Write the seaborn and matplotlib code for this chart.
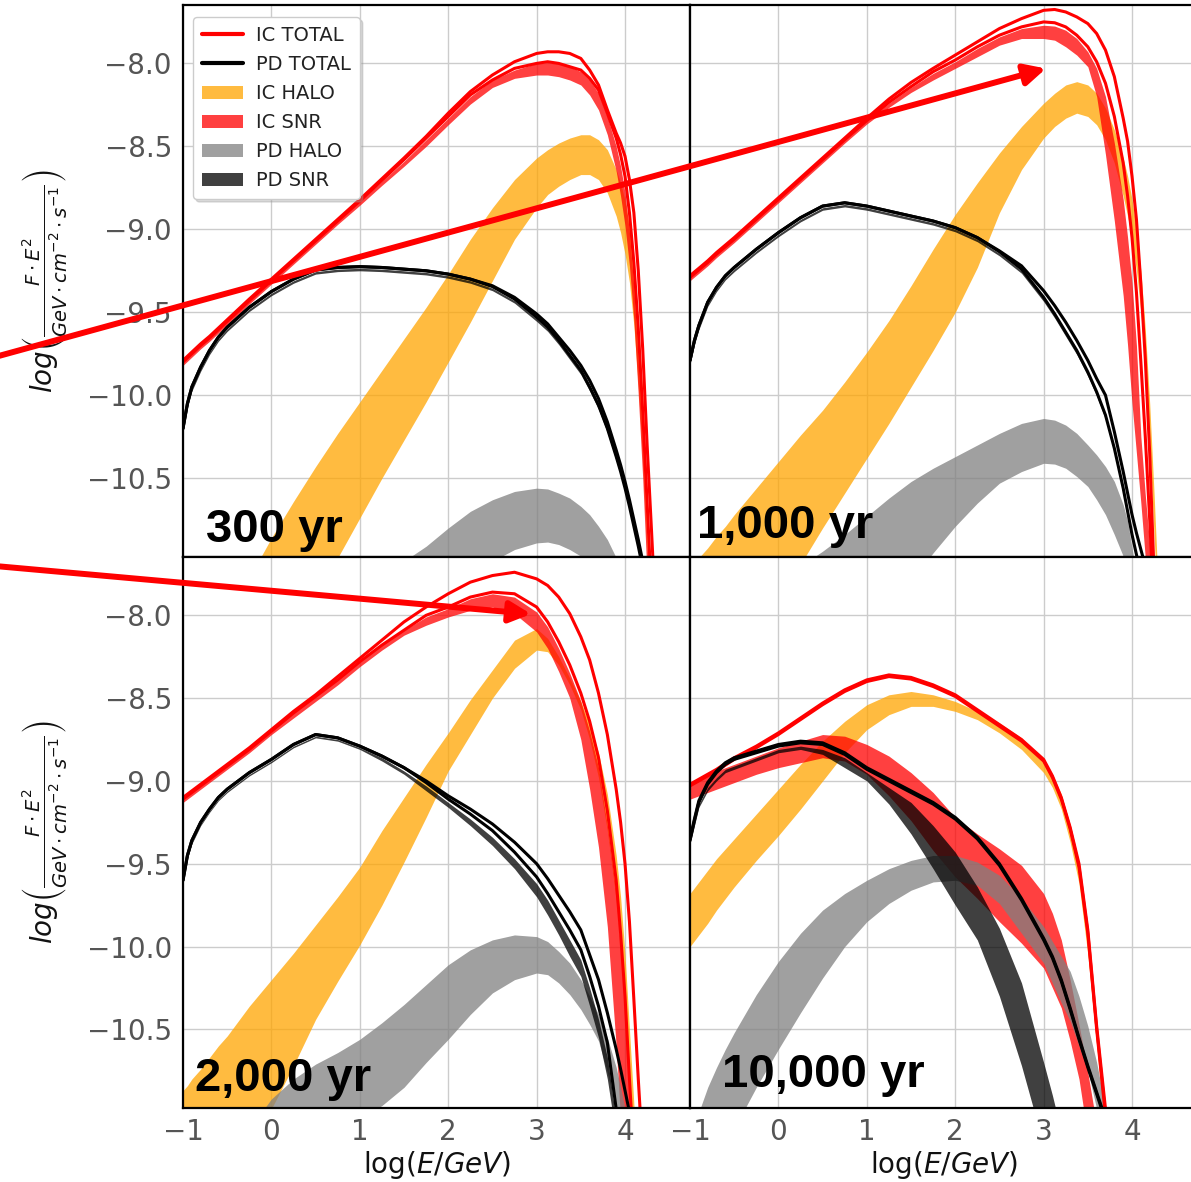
import matplotlib
matplotlib.use("Agg")
import matplotlib.pyplot as plt
from matplotlib.patches import FancyArrowPatch, Patch
from matplotlib.lines import Line2D
import seaborn as sns

# ---------------------------------------------------------------------------
# Energy grids, log10(E/GeV)
# ---------------------------------------------------------------------------
X_EARLY = [-1, -0.95, -0.9, -0.8, -0.7, -0.6, -0.5,
           -0.25, 0, 0.25, 0.5, 0.75, 1, 1.25, 1.5, 1.75, 2, 2.25, 2.5, 2.75,
           3, 3.125, 3.25, 3.375, 3.5, 3.6, 3.7, 3.8, 3.9, 3.95, 4.0, 4.05, 4.1, 4.15, 4.2, 4.25, 4.3, 4.4]
X_LATE = [-1, -0.95, -0.9, -0.8, -0.7, -0.6, -0.5,
          -0.25, 0, 0.25, 0.5, 0.75, 1, 1.25, 1.5, 1.75, 2, 2.25, 2.5, 2.75,
          3, 3.1, 3.2, 3.3, 3.4, 3.5, 3.6, 3.7, 3.8]

# ---------------------------------------------------------------------------
# 300 yr
# ---------------------------------------------------------------------------
IC_TOT_HI_300 = [-9.79, -9.765, -9.74, -9.69, -9.645, -9.595, -9.545,
                 -9.42, -9.30, -9.18, -9.06, -8.94, -8.82, -8.695, -8.57, -8.44, -8.30, -8.17, -8.07, -7.99,
                 -7.94, -7.93, -7.93, -7.94, -7.97, -8.04, -8.13, -8.28, -8.42, -8.48, -8.56, -8.70, -8.90, -9.25, -9.72, -10.3, -10.82, -11.9]
IC_TOT_LO_300 = [-9.80, -9.775, -9.75, -9.70, -9.655, -9.605, -9.555,
                 -9.43, -9.31, -9.19, -9.07, -8.95, -8.83, -8.705, -8.58, -8.45, -8.32, -8.19, -8.10, -8.03,
                 -8.00, -7.99, -8.00, -8.02, -8.04, -8.09, -8.16, -8.30, -8.45, -8.55, -8.68, -8.90, -9.20, -9.60, -10.10, -10.65, -11.2, -12.3]
IC_SNR_HI_300 = [-9.80, -9.775, -9.75, -9.70, -9.655, -9.605, -9.555,
                 -9.43, -9.31, -9.19, -9.07, -8.95, -8.83, -8.71, -8.59, -8.46, -8.33, -8.20, -8.10, -8.04,
                 -8.00, -7.995, -8.00, -8.02, -8.05, -8.10, -8.18, -8.32, -8.50, -8.62, -8.78, -9.02, -9.35, -9.80, -10.3, -10.9, -11.5, -12.5]
IC_SNR_LO_300 = [-9.82, -9.795, -9.77, -9.72, -9.675, -9.625, -9.575,
                 -9.45, -9.33, -9.21, -9.09, -8.97, -8.855, -8.735, -8.62, -8.50, -8.37, -8.245, -8.145, -8.09,
                 -8.07, -8.07, -8.08, -8.10, -8.13, -8.19, -8.28, -8.43, -8.65, -8.80, -8.98, -9.22, -9.55, -10.0, -10.5, -11.1, -11.7, -12.8]
IC_HALO_HI_300 = [-11.9, -11.85, -11.8, -11.68, -11.55, -11.45, -11.35,
                  -11.1, -10.86, -10.64, -10.43, -10.23, -10.04, -9.85, -9.66, -9.47, -9.27, -9.06, -8.87, -8.70,
                  -8.57, -8.52, -8.48, -8.45, -8.43, -8.43, -8.46, -8.52, -8.64, -8.72, -8.83, -8.98, -9.2, -9.55, -10.0, -10.6, -11.2, -12.3]
IC_HALO_LO_300 = [-12.6, -12.55, -12.5, -12.4, -12.3, -12.2, -12.1,
                  -11.9, -11.7, -11.45, -11.2, -10.98, -10.74, -10.5, -10.27, -10.04, -9.80, -9.56, -9.31, -9.06,
                  -8.87, -8.79, -8.74, -8.70, -8.67, -8.67, -8.70, -8.78, -8.92, -9.02, -9.15, -9.32, -9.58, -9.95, -10.4, -10.95, -11.5, -12.5]
PD_HALO_HI_300 = [-12.4, -12.37, -12.35, -12.3, -12.2, -12.12, -12.05,
                  -11.85, -11.65, -11.5, -11.38, -11.27, -11.17, -11.08, -11.0, -10.91, -10.8, -10.7, -10.63, -10.58,
                  -10.56, -10.565, -10.59, -10.62, -10.67, -10.72, -10.79, -10.87, -10.98, -11.05, -11.12, -11.2, -11.3, -11.4, -11.5, -11.6, -11.7, -12.0]
PD_HALO_LO_300 = [-13.2, -13.15, -13.1, -13.0, -12.9, -12.8, -12.7,
                  -12.45, -12.25, -12.05, -11.9, -11.75, -11.65, -11.55, -11.45, -11.32, -11.2, -11.1, -11.0, -10.93,
                  -10.89, -10.885, -10.9, -10.93, -10.97, -11.02, -11.08, -11.15, -11.25, -11.3, -11.35, -11.42, -11.5, -11.6, -11.7, -11.8, -11.9, -12.2]
PD_TOT_HI_300 = [-10.2, -10.05, -9.95, -9.83, -9.73, -9.65, -9.59,
                 -9.47, -9.375, -9.3, -9.245, -9.23, -9.225, -9.23, -9.24, -9.25, -9.27, -9.3, -9.34, -9.41,
                 -9.51, -9.57, -9.65, -9.73, -9.82, -9.91, -10.02, -10.16, -10.33, -10.42, -10.52, -10.63, -10.75, -10.87, -11.0, -11.12, -11.27, -11.6]
PD_TOT_LO_300 = [-10.2, -10.05, -9.95, -9.83, -9.73, -9.65, -9.59,
                 -9.47, -9.375, -9.3, -9.245, -9.23, -9.225, -9.23, -9.24, -9.25, -9.27, -9.3, -9.345, -9.42,
                 -9.53, -9.59, -9.67, -9.76, -9.85, -9.95, -10.06, -10.2, -10.37, -10.46, -10.56, -10.67, -10.79, -10.91, -11.04, -11.17, -11.32, -11.65]
PD_SNR_HI_300 = [-10.21, -10.06, -9.96, -9.84, -9.74, -9.66, -9.60,
                 -9.48, -9.385, -9.31, -9.255, -9.24, -9.235, -9.24, -9.25, -9.26, -9.28, -9.31, -9.355, -9.43,
                 -9.54, -9.60, -9.68, -9.77, -9.86, -9.96, -10.07, -10.21, -10.38, -10.47, -10.57, -10.68, -10.8, -10.92, -11.05, -11.18, -11.33, -11.66]
PD_SNR_LO_300 = [-10.225, -10.075, -9.975, -9.855, -9.755, -9.675, -9.615,
                 -9.495, -9.4, -9.325, -9.27, -9.255, -9.25, -9.255, -9.265, -9.275, -9.295, -9.325, -9.37, -9.445,
                 -9.555, -9.615, -9.695, -9.785, -9.875, -9.975, -10.085, -10.225, -10.395, -10.485, -10.585, -10.695, -10.815, -10.935, -11.065, -11.195, -11.345, -11.675]

# ---------------------------------------------------------------------------
# 1,000 yr
# ---------------------------------------------------------------------------
IC_TOT_HI_1000 = [-9.28, -9.257, -9.235, -9.19, -9.14, -9.095, -9.05,
                  -8.93, -8.81, -8.69, -8.57, -8.45, -8.33, -8.215, -8.115, -8.03, -7.95, -7.87, -7.79, -7.73,
                  -7.68, -7.675, -7.69, -7.72, -7.76, -7.82, -7.92, -8.08, -8.33, -8.47, -8.68, -8.94, -9.33, -9.78, -10.35, -11.08, -11.7, -12.6]
IC_TOT_LO_1000 = [-9.29, -9.267, -9.245, -9.2, -9.15, -9.105, -9.06,
                  -8.94, -8.82, -8.70, -8.58, -8.46, -8.345, -8.235, -8.14, -8.05, -7.98, -7.90, -7.83, -7.78,
                  -7.75, -7.755, -7.78, -7.83, -7.9, -7.99, -8.12, -8.32, -8.6, -8.8, -9.05, -9.38, -9.8, -10.25, -10.75, -11.3, -11.8, -12.8]
IC_SNR_HI_1000 = [-9.29, -9.267, -9.245, -9.2, -9.15, -9.105, -9.06,
                  -8.94, -8.82, -8.70, -8.58, -8.46, -8.345, -8.24, -8.145, -8.06, -7.99, -7.91, -7.84, -7.79,
                  -7.77, -7.775, -7.80, -7.85, -7.93, -8.03, -8.2, -8.48, -8.82, -9.05, -9.32, -9.7, -10.25, -10.6, -10.9, -11.25, -11.7, -12.6]
IC_SNR_LO_1000 = [-9.31, -9.287, -9.265, -9.22, -9.17, -9.125, -9.08,
                  -8.96, -8.84, -8.72, -8.60, -8.48, -8.365, -8.265, -8.175, -8.10, -8.03, -7.96, -7.89, -7.85,
                  -7.85, -7.86, -7.90, -7.95, -8.02, -8.2, -8.55, -8.95, -9.4, -9.7, -10.05, -10.35, -10.65, -10.98, -11.3, -11.6, -11.9, -12.7]
IC_HALO_HI_1000 = [-11.04, -11.01, -10.98, -10.92, -10.85, -10.79, -10.72,
                   -10.56, -10.4, -10.24, -10.09, -9.92, -9.74, -9.55, -9.34, -9.12, -8.91, -8.72, -8.54, -8.38,
                   -8.24, -8.18, -8.13, -8.11, -8.13, -8.18, -8.27, -8.4, -8.57, -8.68, -8.82, -9.0, -9.25, -9.6, -10.05, -10.6, -11.2, -12.3]
IC_HALO_LO_1000 = [-12.1, -12.06, -12.02, -11.96, -11.88, -11.8, -11.7,
                   -11.45, -11.22, -11.02, -10.8, -10.59, -10.38, -10.17, -9.95, -9.73, -9.5, -9.23, -8.9, -8.64,
                   -8.45, -8.38, -8.33, -8.3, -8.32, -8.37, -8.46, -8.6, -8.8, -8.92, -9.06, -9.25, -9.5, -9.85, -10.3, -10.85, -11.4, -12.5]
PD_HALO_HI_1000 = [-11.7, -11.67, -11.64, -11.58, -11.52, -11.46, -11.4,
                   -11.25, -11.13, -11.03, -10.94, -10.84, -10.73, -10.62, -10.52, -10.44, -10.37, -10.3, -10.23, -10.17,
                   -10.14, -10.15, -10.18, -10.23, -10.3, -10.36, -10.43, -10.52, -10.66, -10.76, -10.92, -11.08, -11.22, -11.38, -11.55, -11.75, -11.95, -12.4]
PD_HALO_LO_1000 = [-12.5, -12.47, -12.45, -12.4, -12.3, -12.25, -12.2,
                   -12.05, -11.9, -11.75, -11.6, -11.5, -11.4, -11.28, -11.12, -10.95, -10.79, -10.65, -10.53, -10.46,
                   -10.41, -10.415, -10.44, -10.49, -10.55, -10.63, -10.72, -10.84, -10.97, -11.05, -11.15, -11.27, -11.4, -11.55, -11.7, -11.85, -12.0, -12.4]
PD_TOT_HI_1000 = [-9.79, -9.67, -9.58, -9.44, -9.35, -9.28, -9.23,
                  -9.12, -9.02, -8.93, -8.86, -8.84, -8.86, -8.89, -8.92, -8.95, -8.99, -9.05, -9.13, -9.22,
                  -9.37, -9.46, -9.56, -9.67, -9.79, -9.9, -10.0, -10.22, -10.46, -10.59, -10.72, -10.83, -10.93, -11.03, -11.15, -11.3, -11.45, -11.8]
PD_TOT_LO_1000 = [-9.79, -9.67, -9.58, -9.44, -9.35, -9.28, -9.23,
                  -9.12, -9.02, -8.93, -8.86, -8.84, -8.86, -8.89, -8.92, -8.95, -8.99, -9.05, -9.135, -9.24,
                  -9.41, -9.51, -9.62, -9.73, -9.86, -9.98, -10.12, -10.32, -10.56, -10.7, -10.84, -10.96, -11.08, -11.2, -11.33, -11.47, -11.6, -11.95]
PD_SNR_HI_1000 = [-9.80, -9.68, -9.59, -9.45, -9.36, -9.29, -9.24,
                  -9.13, -9.03, -8.94, -8.87, -8.85, -8.87, -8.90, -8.93, -8.96, -9.00, -9.06, -9.145, -9.25,
                  -9.42, -9.52, -9.63, -9.74, -9.87, -9.99, -10.13, -10.33, -10.57, -10.71, -10.85, -10.97, -11.09, -11.21, -11.34, -11.48, -11.61, -11.96]
PD_SNR_LO_1000 = [-9.815, -9.695, -9.605, -9.465, -9.375, -9.305, -9.255,
                  -9.145, -9.045, -8.955, -8.885, -8.865, -8.885, -8.915, -8.945, -8.975, -9.015, -9.075, -9.16, -9.265,
                  -9.435, -9.535, -9.645, -9.755, -9.885, -10.005, -10.145, -10.345, -10.585, -10.725, -10.865, -10.985, -11.105, -11.225, -11.355, -11.495, -11.625, -11.975]

# ---------------------------------------------------------------------------
# 2,000 yr
# ---------------------------------------------------------------------------
IC_TOT_HI_2000 = [-9.10, -9.08, -9.06, -9.02, -8.98, -8.94, -8.9,
                  -8.8, -8.69, -8.58, -8.48, -8.37, -8.26, -8.15, -8.04, -7.95, -7.87, -7.80, -7.76, -7.74,
                  -7.78, -7.82, -7.89, -7.99, -8.13, -8.27, -8.47, -8.72, -9.05, -9.25, -9.5, -9.85, -10.32, -10.8, -11.25, -11.7, -12.2, -13.0]
IC_TOT_LO_2000 = [-9.11, -9.09, -9.07, -9.03, -8.99, -8.95, -8.91,
                  -8.81, -8.70, -8.59, -8.49, -8.39, -8.28, -8.18, -8.09, -8.0, -7.95, -7.89, -7.86, -7.87,
                  -7.95, -8.04, -8.16, -8.3, -8.47, -8.64, -8.86, -9.18, -9.6, -9.92, -10.3, -10.8, -11.25, -11.7, -12.1, -12.5, -12.9, -13.6]
IC_SNR_HI_2000 = [-9.11, -9.09, -9.07, -9.03, -8.99, -8.95, -8.91,
                  -8.81, -8.70, -8.59, -8.49, -8.39, -8.28, -8.18, -8.09, -8.01, -7.96, -7.90, -7.87, -7.89,
                  -7.98, -8.07, -8.2, -8.35, -8.52, -8.7, -8.92, -9.27, -9.68, -10.02, -10.4, -10.88, -11.3, -11.7, -12.1, -12.5, -12.9, -13.6]
IC_SNR_LO_2000 = [-9.13, -9.11, -9.09, -9.05, -9.01, -8.97, -8.93,
                  -8.83, -8.72, -8.62, -8.52, -8.42, -8.31, -8.21, -8.12, -8.06, -8.01, -7.97, -7.95, -7.99,
                  -8.1, -8.2, -8.34, -8.5, -8.75, -9.05, -9.4, -9.88, -10.6, -11.05, -11.4, -11.8, -12.2, -12.6, -13.0, -13.4, -13.8, -14.5]
IC_HALO_HI_2000 = [-10.87, -10.84, -10.8, -10.74, -10.67, -10.6, -10.54,
                   -10.36, -10.2, -10.04, -9.87, -9.7, -9.52, -9.3, -9.1, -8.9, -8.71, -8.51, -8.33, -8.15,
                   -8.08, -8.14, -8.25, -8.38, -8.52, -8.66, -8.83, -9.08, -9.45, -9.7, -10.05, -10.5, -10.95, -11.4, -11.8, -12.2, -12.6, -13.3]
IC_HALO_LO_2000 = [-11.9, -11.85, -11.8, -11.7, -11.6, -11.52, -11.45,
                   -11.22, -10.98, -10.72, -10.44, -10.21, -9.99, -9.75, -9.49, -9.22, -8.94, -8.72, -8.5, -8.32,
                   -8.21, -8.22, -8.3, -8.42, -8.57, -8.75, -8.98, -9.3, -9.72, -10.0, -10.35, -10.8, -11.25, -11.7, -12.1, -12.5, -12.9, -13.6]
PD_HALO_HI_2000 = [-11.6, -11.57, -11.54, -11.48, -11.42, -11.36, -11.3,
                   -11.1, -10.92, -10.8, -10.71, -10.64, -10.56, -10.46, -10.35, -10.23, -10.11, -10.02, -9.96, -9.93,
                   -9.94, -9.97, -10.03, -10.1, -10.2, -10.3, -10.41, -10.55, -10.73, -10.85, -10.98, -11.1, -11.25, -11.4, -11.55, -11.7, -11.85, -12.2]
PD_HALO_LO_2000 = [-12.3, -12.26, -12.22, -12.15, -12.05, -11.98, -11.9,
                   -11.7, -11.5, -11.35, -11.22, -11.12, -11.04, -10.96, -10.85, -10.7, -10.56, -10.41, -10.28, -10.2,
                   -10.16, -10.17, -10.22, -10.29, -10.38, -10.47, -10.57, -10.76, -10.98, -11.08, -11.18, -11.3, -11.45, -11.6, -11.75, -11.9, -12.05, -12.4]
PD_TOT_HI_2000 = [-9.6, -9.45, -9.36, -9.25, -9.17, -9.1, -9.05,
                  -8.95, -8.87, -8.78, -8.72, -8.74, -8.79, -8.85, -8.92, -9.0, -9.09, -9.17, -9.26, -9.37,
                  -9.5, -9.59, -9.69, -9.79, -9.9, -10.05, -10.2, -10.4, -10.62, -10.74, -10.87, -11.0, -11.13, -11.27, -11.4, -11.55, -11.7, -12.0]
PD_TOT_LO_2000 = [-9.6, -9.45, -9.36, -9.25, -9.17, -9.1, -9.05,
                  -8.95, -8.87, -8.78, -8.72, -8.74, -8.79, -8.85, -8.92, -9.01, -9.11, -9.2, -9.3, -9.43,
                  -9.58, -9.68, -9.79, -9.9, -10.02, -10.18, -10.36, -10.58, -10.98, -11.15, -11.3, -11.45, -11.6, -11.75, -11.9, -12.05, -12.2, -12.5]
PD_SNR_HI_2000 = [-9.61, -9.46, -9.37, -9.26, -9.18, -9.11, -9.06,
                  -8.96, -8.88, -8.79, -8.73, -8.75, -8.80, -8.86, -8.94, -9.03, -9.13, -9.23, -9.34, -9.47,
                  -9.62, -9.72, -9.84, -9.96, -10.08, -10.25, -10.44, -10.67, -11.05, -11.22, -11.37, -11.52, -11.67, -11.82, -11.97, -12.12, -12.27, -12.57]
PD_SNR_LO_2000 = [-9.62, -9.47, -9.38, -9.27, -9.19, -9.12, -9.07,
                  -8.97, -8.89, -8.8, -8.74, -8.76, -8.81, -8.88, -8.96, -9.06, -9.16, -9.27, -9.39, -9.53,
                  -9.7, -9.81, -9.93, -10.06, -10.18, -10.36, -10.55, -10.8, -11.15, -11.32, -11.47, -11.62, -11.77, -11.92, -12.07, -12.22, -12.37, -12.67]

# ---------------------------------------------------------------------------
# 10,000 yr
# ---------------------------------------------------------------------------
IC_TOT_HI_10000 = [-9.02, -9.005, -8.99, -8.96, -8.93, -8.895, -8.86,
                   -8.79, -8.71, -8.62, -8.53, -8.45, -8.39, -8.36, -8.375, -8.42, -8.48, -8.57, -8.66, -8.75,
                   -8.87, -8.97, -9.1, -9.28, -9.5, -9.9, -10.48, -10.98, -11.5]
IC_TOT_LO_10000 = [-9.03, -9.015, -9.0, -8.97, -8.94, -8.905, -8.87,
                   -8.80, -8.72, -8.63, -8.54, -8.46, -8.40, -8.37, -8.385, -8.43, -8.49, -8.58, -8.67, -8.76,
                   -8.88, -8.98, -9.11, -9.29, -9.52, -9.92, -10.5, -11.02, -11.55]
IC_SNR_HI_10000 = [-9.02, -9.005, -8.99, -8.965, -8.94, -8.92, -8.9,
                   -8.85, -8.80, -8.76, -8.72, -8.73, -8.78, -8.85, -8.95, -9.07, -9.22, -9.32, -9.41, -9.51,
                   -9.68, -9.8, -9.96, -10.2, -10.47, -10.76, -11.08, -11.5, -12.0]
IC_SNR_LO_10000 = [-9.11, -9.10, -9.09, -9.07, -9.05, -9.03, -9.01,
                   -8.96, -8.92, -8.89, -8.86, -8.88, -8.96, -9.09, -9.24, -9.42, -9.58, -9.71, -9.85, -9.98,
                   -10.13, -10.25, -10.37, -10.57, -10.8, -11.15, -11.45, -11.8, -12.2]
IC_HALO_HI_10000 = [-9.68, -9.645, -9.61, -9.54, -9.47, -9.41, -9.35,
                    -9.2, -9.05, -8.9, -8.76, -8.64, -8.54, -8.48, -8.46, -8.48, -8.52, -8.58, -8.65, -8.74,
                    -8.88, -8.96, -9.08, -9.27, -9.5, -9.9, -10.45, -11.0, -11.6]
IC_HALO_LO_10000 = [-10.0, -9.965, -9.93, -9.86, -9.78, -9.71, -9.64,
                    -9.48, -9.33, -9.17, -9.0, -8.83, -8.69, -8.6, -8.55, -8.55, -8.58, -8.63, -8.71, -8.81,
                    -8.95, -9.04, -9.17, -9.37, -9.62, -10.05, -10.6, -11.15, -11.7]
PD_HALO_HI_10000 = [-11.2, -11.1, -11.0, -10.85, -10.73, -10.62, -10.52,
                    -10.29, -10.09, -9.92, -9.78, -9.68, -9.6, -9.53, -9.48, -9.45, -9.45, -9.49, -9.57, -9.71,
                    -9.88, -9.97, -10.06, -10.15, -10.3, -10.48, -10.7, -10.98, -11.3]
PD_HALO_LO_10000 = [-12.0, -11.9, -11.8, -11.6, -11.4, -11.25, -11.1,
                    -10.85, -10.62, -10.4, -10.19, -10.0, -9.85, -9.74, -9.66, -9.61, -9.6, -9.63, -9.74, -9.92,
                    -10.1, -10.22, -10.34, -10.45, -10.6, -10.75, -10.98, -11.2, -11.5]
PD_TOT_HI_10000 = [-9.35, -9.23, -9.12, -9.01, -8.94, -8.89, -8.86,
                   -8.82, -8.78, -8.76, -8.77, -8.83, -8.92, -8.99, -9.06, -9.13, -9.22, -9.34, -9.5, -9.71,
                   -9.95, -10.06, -10.2, -10.37, -10.55, -10.72, -10.88, -11.04, -11.2]
PD_TOT_LO_10000 = [-9.36, -9.24, -9.13, -9.02, -8.95, -8.90, -8.87,
                   -8.83, -8.79, -8.77, -8.78, -8.84, -8.93, -9.0, -9.07, -9.14, -9.23, -9.35, -9.51, -9.72,
                   -9.96, -10.07, -10.21, -10.38, -10.56, -10.73, -10.89, -11.05, -11.21]
PD_SNR_HI_10000 = [-9.36, -9.25, -9.14, -9.04, -8.98, -8.93, -8.91,
                   -8.86, -8.81, -8.79, -8.81, -8.86, -8.95, -9.04, -9.13, -9.27, -9.43, -9.64, -9.89, -10.22,
                   -10.7, -10.9, -11.12, -11.35, -11.6, -11.85, -12.1, -12.4, -12.7]
PD_SNR_LO_10000 = [-9.38, -9.27, -9.16, -9.06, -9.0, -8.95, -8.93,
                   -8.88, -8.83, -8.81, -8.84, -8.92, -9.0, -9.14, -9.32, -9.53, -9.75, -9.96, -10.3, -10.72,
                   -11.2, -11.45, -11.7, -11.95, -12.2, -12.5, -12.8, -13.1, -13.4]

AGE_LABELS = ["300 yr", "1,000 yr", "2,000 yr", "10,000 yr"]
X_TICKS = [-1, 0, 1, 2, 3, 4]
Y_TICKS = [-10.5, -10.0, -9.5, -9.0, -8.5, -8.0]
LEGEND_LABELS = ["IC TOTAL", "PD TOTAL", "IC HALO", "IC SNR", "PD HALO", "PD SNR"]

panels = [
    dict(x=X_EARLY, ic_tot=(IC_TOT_LO_300, IC_TOT_HI_300), ic_snr=(IC_SNR_LO_300, IC_SNR_HI_300),
         ic_halo=(IC_HALO_LO_300, IC_HALO_HI_300), pd_halo=(PD_HALO_LO_300, PD_HALO_HI_300),
         pd_tot=(PD_TOT_LO_300, PD_TOT_HI_300), pd_snr=(PD_SNR_LO_300, PD_SNR_HI_300)),
    dict(x=X_EARLY, ic_tot=(IC_TOT_LO_1000, IC_TOT_HI_1000), ic_snr=(IC_SNR_LO_1000, IC_SNR_HI_1000),
         ic_halo=(IC_HALO_LO_1000, IC_HALO_HI_1000), pd_halo=(PD_HALO_LO_1000, PD_HALO_HI_1000),
         pd_tot=(PD_TOT_LO_1000, PD_TOT_HI_1000), pd_snr=(PD_SNR_LO_1000, PD_SNR_HI_1000)),
    dict(x=X_EARLY, ic_tot=(IC_TOT_LO_2000, IC_TOT_HI_2000), ic_snr=(IC_SNR_LO_2000, IC_SNR_HI_2000),
         ic_halo=(IC_HALO_LO_2000, IC_HALO_HI_2000), pd_halo=(PD_HALO_LO_2000, PD_HALO_HI_2000),
         pd_tot=(PD_TOT_LO_2000, PD_TOT_HI_2000), pd_snr=(PD_SNR_LO_2000, PD_SNR_HI_2000)),
    dict(x=X_LATE, ic_tot=(IC_TOT_LO_10000, IC_TOT_HI_10000), ic_snr=(IC_SNR_LO_10000, IC_SNR_HI_10000),
         ic_halo=(IC_HALO_LO_10000, IC_HALO_HI_10000), pd_halo=(PD_HALO_LO_10000, PD_HALO_HI_10000),
         pd_tot=(PD_TOT_LO_10000, PD_TOT_HI_10000), pd_snr=(PD_SNR_LO_10000, PD_SNR_HI_10000)),
]

sns.set_theme(style="whitegrid")
plt.rcParams.update({
    "font.family": ["DejaVu Sans"],
    "axes.edgecolor": "black",
    "axes.linewidth": 1.6,
    "grid.color": "0.8",
    "grid.linewidth": 1.0,
    "xtick.color": "#555555",
    "ytick.color": "#555555",
    "xtick.labelcolor": "#555555",
    "ytick.labelcolor": "#555555",
    "axes.labelcolor": "#111111",
    "text.color": "black",
    "mathtext.fontset": "dejavusans",
})

FIG_W, FIG_H = 1191, 1182
fig = plt.figure(figsize=(FIG_W / 100, FIG_H / 100), dpi=100)
fig.patch.set_facecolor("white")

AX_W = 507 / FIG_W
boxes = [
    [183 / FIG_W, 1 - 557 / FIG_H, AX_W, 552 / FIG_H],
    [690 / FIG_W, 1 - 557 / FIG_H, AX_W, 552 / FIG_H],
    [183 / FIG_W, 1 - 1108 / FIG_H, AX_W, 551 / FIG_H],
    [690 / FIG_W, 1 - 1108 / FIG_H, AX_W, 551 / FIG_H],
]
label_pos = [(0.045, 0.027), (0.013, 0.035), (0.024, 0.030), (0.063, 0.038)]

C_IC_HALO = "orange"
C_IC_SNR = "red"
C_PD_HALO = "gray"
C_PD_SNR = "black"
BAND_ALPHA = 0.75

axes = []
for i, (box, p) in enumerate(zip(boxes, panels)):
    ax = fig.add_axes(box)
    axes.append(ax)
    x = p["x"]
    ax.fill_between(x, *p["ic_halo"], color=C_IC_HALO, alpha=BAND_ALPHA, lw=0, zorder=2)
    ax.fill_between(x, *p["ic_snr"], color=C_IC_SNR, alpha=BAND_ALPHA, lw=0, zorder=3)
    ax.fill_between(x, *p["pd_halo"], color=C_PD_HALO, alpha=BAND_ALPHA, lw=0, zorder=4)
    ax.fill_between(x, *p["pd_snr"], color=C_PD_SNR, alpha=BAND_ALPHA, lw=0, zorder=5)
    for y in p["ic_tot"]:
        sns.lineplot(x=x, y=y, ax=ax, color="red", lw=2.2, estimator=None, sort=False, zorder=6)
    for y in p["pd_tot"]:
        sns.lineplot(x=x, y=y, ax=ax, color="black", lw=2.2, estimator=None, sort=False, zorder=7)

    ax.set_xlim(-1, 4.735)
    ax.set_ylim(-10.975, -7.648)
    ax.set_xticks(X_TICKS)
    ax.set_yticks(Y_TICKS)
    ax.grid(True, zorder=0)
    ax.set_axisbelow(True)
    ax.tick_params(axis="both", length=0, labelsize=20)
    ax.tick_params(axis="y", pad=8)
    ax.tick_params(axis="x", pad=7)
    for s in ax.spines.values():
        s.set_color("black")
        s.set_linewidth(1.6)
        s.set_zorder(10)
    ax.set_xlabel("")
    ax.set_ylabel("")
    if i in (0, 1):
        ax.tick_params(labelbottom=False)
    else:
        ax.set_xlabel(r"$\log(E/GeV)$", fontsize=20)
        ax.xaxis.set_label_coords(0.5, -0.075)
    if i in (1, 3):
        ax.tick_params(labelleft=False)
    else:
        ax.set_ylabel(r"$log\left(\frac{F\cdot E^2}{GeV\cdot cm^{-2}\cdot s^{-1}}\right)$", fontsize=20)
        ax.yaxis.set_label_coords(-0.225, 0.5)

    lx, ly = label_pos[i]
    ax.text(lx, ly, AGE_LABELS[i], transform=ax.transAxes, ha="left", va="baseline",
            fontsize=34, fontweight="bold", family=["Liberation Sans", "DejaVu Sans"], color="black", zorder=12)

handles = [
    Line2D([], [], color="red", lw=3),
    Line2D([], [], color="black", lw=3),
    Patch(facecolor=C_IC_HALO, alpha=BAND_ALPHA, lw=0),
    Patch(facecolor=C_IC_SNR, alpha=BAND_ALPHA, lw=0),
    Patch(facecolor=C_PD_HALO, alpha=BAND_ALPHA, lw=0),
    Patch(facecolor=C_PD_SNR, alpha=BAND_ALPHA, lw=0),
]
leg = axes[0].legend(handles, LEGEND_LABELS, loc="upper left", bbox_to_anchor=(0.02, 0.978),
                     borderaxespad=0, fontsize=14, frameon=True, framealpha=1.0, edgecolor="0.8",
                     fancybox=True, handlelength=2.1, handletextpad=0.7, labelspacing=0.52,
                     borderpad=0.45, shadow={"color": "0.6", "alpha": 0.35})
leg.set_zorder(20)
for t in leg.get_texts():
    t.set_color("#222222")

# Two annotation arrows running across the panels
for (x0, y0), (x1, y1) in [((-5, 357), (1046, 68.5)), ((-5, 566), (531, 614))]:
    arr = FancyArrowPatch((x0 / FIG_W, 1 - y0 / FIG_H), (x1 / FIG_W, 1 - y1 / FIG_H),
                          transform=fig.transFigure, arrowstyle="-|>,head_length=0.9,head_width=0.45",
                          mutation_scale=14, lw=4.3, color="red", shrinkA=0, shrinkB=0, zorder=30)
    fig.patches.append(arr)

fig.savefig("out.png", dpi=100, facecolor="white")
